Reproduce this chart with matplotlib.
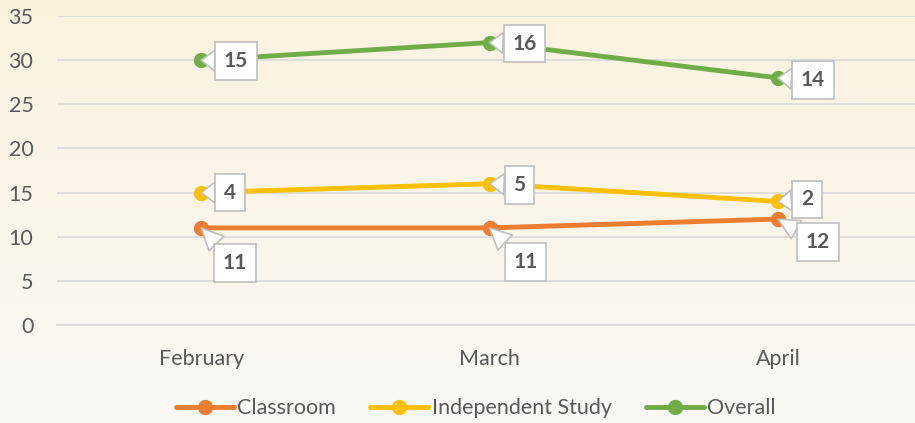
import numpy as np
import matplotlib
matplotlib.use("Agg")
import matplotlib.pyplot as plt
from matplotlib.colors import LinearSegmentedColormap

months = ["February", "March", "April"]
classroom = [11, 11, 12]
independent = [15, 16, 14]
overall = [30, 32, 28]
classroom_labels = ["11", "11", "12"]
independent_labels = ["4", "5", "2"]
overall_labels = ["15", "16", "14"]

plt.rcParams["font.family"] = ["Lato", "DejaVu Sans"]
text_color = "#595959"
grid_color = "#D9D9D9"

fig = plt.figure(figsize=(9.15, 4.23), dpi=100)

# background gradient (light cream at top, near white at bottom)
bg = fig.add_axes([0, 0, 1, 1], zorder=-10)
cmap = LinearSegmentedColormap.from_list("bg", ["#FCF2DE", "#FAF9F6"])
bg.imshow(np.linspace(0, 1, 256).reshape(-1, 1), aspect="auto", cmap=cmap,
          extent=[0, 1, 0, 1])
bg.axis("off")

ax = fig.add_axes([0.0623, 0.2317, 0.9454, 0.7303])
ax.patch.set_alpha(0)
x = np.arange(len(months))

series = [
    ("Classroom", classroom, classroom_labels, "#ED7D31",
     [(34, -35), (36, -34), (40, -23)]),
    ("Independent Study", independent, independent_labels, "#FFC000",
     [(29, 0), (30, -1), (29, 2)]),
    ("Overall", overall, overall_labels, "#70AD47",
     [(35, -1), (35, -1), (35, -2)]),
]

handles = []
for name, vals, labels, color, offs in series:
    h, = ax.plot(x, vals, color=color, linewidth=3.5, marker="o",
                 markersize=10, label=name, zorder=3, solid_capstyle="round")
    handles.append(h)
    for xi, yi, lab, off in zip(x, vals, labels, offs):
        ax.annotate(
            lab, xy=(xi, yi), xytext=off, textcoords="offset pixels",
            ha="center", va="center", fontsize=15, fontweight="bold",
            color=text_color, zorder=5,
            bbox=dict(boxstyle="square,pad=0.42", fc="white", ec="#BFBFBF", lw=1.2),
            arrowprops=dict(arrowstyle="wedge,tail_width=1.0,shrink_factor=0.5",
                            fc="white", ec="#BFBFBF", lw=1.2,
                            shrinkA=0, shrinkB=0),
        )

ax.set_xlim(-0.5, 2.5)
ax.set_ylim(0, 35)
ax.set_yticks(range(0, 36, 5))
ax.set_xticks(x)
ax.set_xticklabels(months)
ax.yaxis.grid(True, color=grid_color, linewidth=1.2, zorder=0)
ax.set_axisbelow(True)
for spine in ["left", "right", "top"]:
    ax.spines[spine].set_visible(False)
ax.spines["bottom"].set_color(grid_color)
ax.spines["bottom"].set_linewidth(1.2)
ax.tick_params(axis="both", length=0, labelsize=15.5, colors=text_color)
ax.tick_params(axis="y", pad=17)
ax.tick_params(axis="x", pad=17)

leg = fig.legend(handles=handles, loc="center", bbox_to_anchor=(0.52, 0.035),
                 ncol=3, frameon=False, fontsize=15.5, handlelength=2.7,
                 handletextpad=0.15, columnspacing=1.6)
for t in leg.get_texts():
    t.set_color(text_color)

fig.savefig("out.png", dpi=100)
